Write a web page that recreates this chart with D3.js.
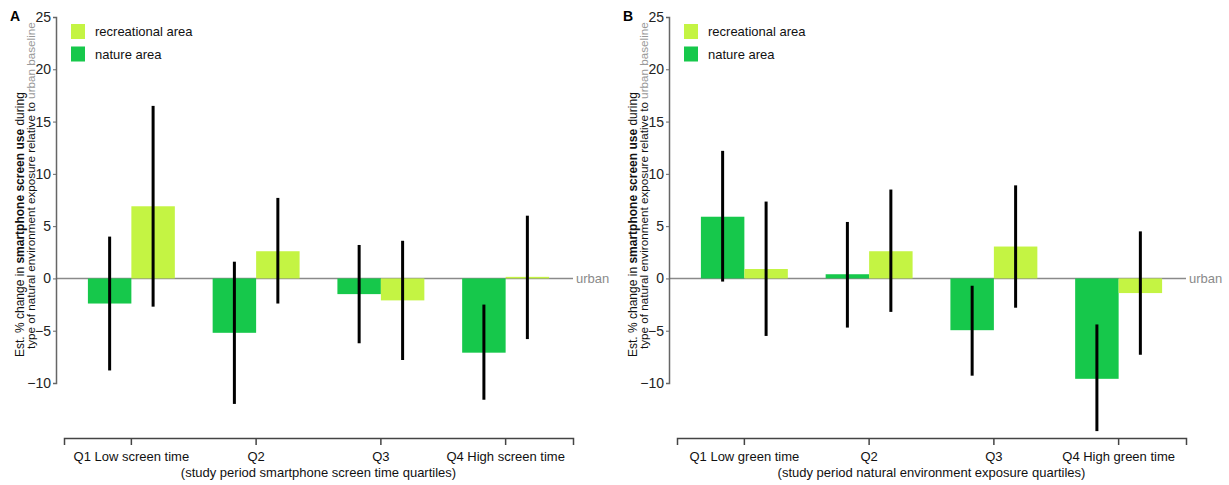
<!DOCTYPE html>
<html>
<head>
<meta charset="utf-8">
<script src="https://cdn.jsdelivr.net/npm/d3@7"></script>
<style>
  body { margin: 0; background: #fff; }
  svg { font-family: "Liberation Sans", Arial, sans-serif; }
</style>
</head>
<body>
<div id="chart-container"></div>
<script>
// two panels: grouped bars (nature / recreational) with CI whiskers, relative to urban baseline
const keys = ["nature", "recreational"];
const legendLabels = ["recreational area", "nature area"];
const yTicks = [-10, -5, 0, 5, 10, 15, 20, 25];

// panel A - screen time quartiles
const catsA = ["Q1 Low screen time", "Q2", "Q3", "Q4 High screen time"];
const natureA = [-2.4, -5.2, -1.5, -7.1];
const natureLoA = [-8.8, -12.0, -6.2, -11.6];
const natureHiA = [4.0, 1.6, 3.2, -2.5];
const recA = [6.9, 2.6, -2.1, 0.15];
const recLoA = [-2.7, -2.4, -7.8, -5.8];
const recHiA = [16.5, 7.7, 3.6, 6.0];

// panel B - green time quartiles
const catsB = ["Q1 Low green time", "Q2", "Q3", "Q4 High green time"];
const natureB = [5.9, 0.4, -4.95, -9.6];
const natureLoB = [-0.3, -4.7, -9.3, -14.6];
const natureHiB = [12.2, 5.4, -0.7, -4.4];
const recB = [0.9, 2.6, 3.05, -1.4];
const recLoB = [-5.5, -3.2, -2.8, -7.3];
const recHiB = [7.35, 8.5, 8.9, 4.5];

const colors = { nature: "#16c84b", recreational: "#c4f443" };

const svg = d3
  .select("#chart-container")
  .append("svg")
  .attr("width", 1229)
  .attr("height", 485);

function buildRows(cats, nat, natLo, natHi, rec, recLo, recHi) {
  return cats.map((c, i) => ({
    cat: c,
    bars: [
      { key: "nature", v: nat[i], lo: natLo[i], hi: natHi[i] },
      { key: "recreational", v: rec[i], lo: recLo[i], hi: recHi[i] }
    ]
  }));
}

function drawPanel(offset, letter, rows, xTitle) {
  const g = svg.append("g").attr("transform", "translate(" + offset + ",0)");
  const axisX = 56;
  const axisBottom = 438;

  const y = d3.scaleLinear().domain([-10, 25]).range([383, 17]);
  const x = d3
    .scaleBand()
    .domain(rows.map(d => d.cat))
    .range([64, 573])
    .paddingInner(0)
    .paddingOuter(0.04);
  const x1 = d3
    .scaleBand()
    .domain(keys)
    .range([0, x.bandwidth()])
    .paddingOuter(0.435);

  // zero / urban baseline
  g.append("line")
    .attr("x1", axisX)
    .attr("x2", 573)
    .attr("y1", y(0))
    .attr("y2", y(0))
    .attr("stroke", "#8a8a8a")
    .attr("stroke-width", 1.5);
  g.append("text")
    .attr("x", 576)
    .attr("y", y(0) + 4.5)
    .attr("font-size", "13px")
    .attr("fill", "#8a8a8a")
    .text("urban");

  const groups = g
    .selectAll(".grp")
    .data(rows)
    .enter()
    .append("g")
    .attr("class", "grp")
    .attr("transform", d => "translate(" + x(d.cat) + ",0)");

  groups
    .selectAll("rect")
    .data(d => d.bars)
    .enter()
    .append("rect")
    .attr("x", d => x1(d.key))
    .attr("width", x1.bandwidth())
    .attr("y", d => y(Math.max(0, d.v)))
    .attr("height", d => Math.abs(y(d.v) - y(0)))
    .attr("fill", d => colors[d.key]);

  groups
    .selectAll(".err")
    .data(d => d.bars)
    .enter()
    .append("line")
    .attr("class", "err")
    .attr("x1", d => x1(d.key) + x1.bandwidth() / 2)
    .attr("x2", d => x1(d.key) + x1.bandwidth() / 2)
    .attr("y1", d => y(d.hi))
    .attr("y2", d => y(d.lo))
    .attr("stroke", "#000")
    .attr("stroke-width", 3);

  // y axis
  const yAxis = g
    .append("g")
    .attr("transform", "translate(" + axisX + ",0)")
    .call(d3.axisLeft(y).tickValues(yTicks).tickSize(3).tickPadding(2));
  yAxis.select(".domain").attr("stroke", "#666").attr("stroke-width", 1.5);
  yAxis.selectAll(".tick line").attr("stroke", "#666");
  yAxis
    .selectAll(".tick text")
    .attr("font-size", "14px")
    .attr("font-family", "Liberation Sans, Arial, sans-serif")
    .attr("fill", "#222");

  // x axis
  const xAxis = g
    .append("g")
    .attr("transform", "translate(0," + axisBottom + ")")
    .call(d3.axisBottom(x).tickSizeOuter(0).tickSize(7).tickPadding(7));
  xAxis.select(".domain").attr("stroke", "#444").attr("stroke-width", 1.5);
  xAxis.selectAll(".tick line").attr("stroke", "#444").attr("stroke-width", 1.5);
  xAxis
    .selectAll(".tick text")
    .attr("font-size", "13px")
    .attr("font-family", "Liberation Sans, Arial, sans-serif")
    .attr("fill", "#111");

  g.append("text")
    .attr("x", (64 + 573) / 2)
    .attr("y", 477)
    .attr("text-anchor", "middle")
    .attr("font-size", "13px")
    .attr("fill", "#111")
    .text(xTitle);

  // panel letter
  g.append("text")
    .attr("x", 10)
    .attr("y", 21)
    .attr("font-size", "14px")
    .attr("font-weight", "bold")
    .text(letter);

  // y label, two lines
  const l1 = g
    .append("text")
    .attr("transform", "translate(24,357)rotate(-90)")
    .attr("font-size", "12px")
    .attr("fill", "#111");
  l1.append("tspan").text("Est. % change in ");
  l1.append("tspan").attr("font-weight", "bold").text("smartphone screen use");
  l1.append("tspan").text(" during");

  const l2 = g
    .append("text")
    .attr("transform", "translate(35,349)rotate(-90)")
    .attr("font-size", "11.7px")
    .attr("fill", "#111");
  l2.append("tspan").text("type of natural environment exposure relative to ");
  l2.append("tspan").attr("fill", "#999").text("urban baseline");

  // legend
  const legend = g
    .selectAll(".legend-cell")
    .data(legendLabels)
    .enter()
    .append("g")
    .attr("class", "legend-cell")
    .attr("transform", (d, i) => "translate(71," + (24 + i * 22.5) + ")");
  legend
    .append("rect")
    .attr("width", 14)
    .attr("height", 15)
    .attr("fill", (d, i) => (i === 0 ? colors.recreational : colors.nature));
  legend
    .append("text")
    .attr("x", 24)
    .attr("y", 12)
    .attr("font-size", "13px")
    .attr("fill", "#111")
    .text(d => d);
}

drawPanel(
  0,
  "A",
  buildRows(catsA, natureA, natureLoA, natureHiA, recA, recLoA, recHiA),
  "(study period smartphone screen time quartiles)"
);
drawPanel(
  613,
  "B",
  buildRows(catsB, natureB, natureLoB, natureHiB, recB, recLoB, recHiB),
  "(study period natural environment exposure quartiles)"
);
</script>
</body>
</html>
